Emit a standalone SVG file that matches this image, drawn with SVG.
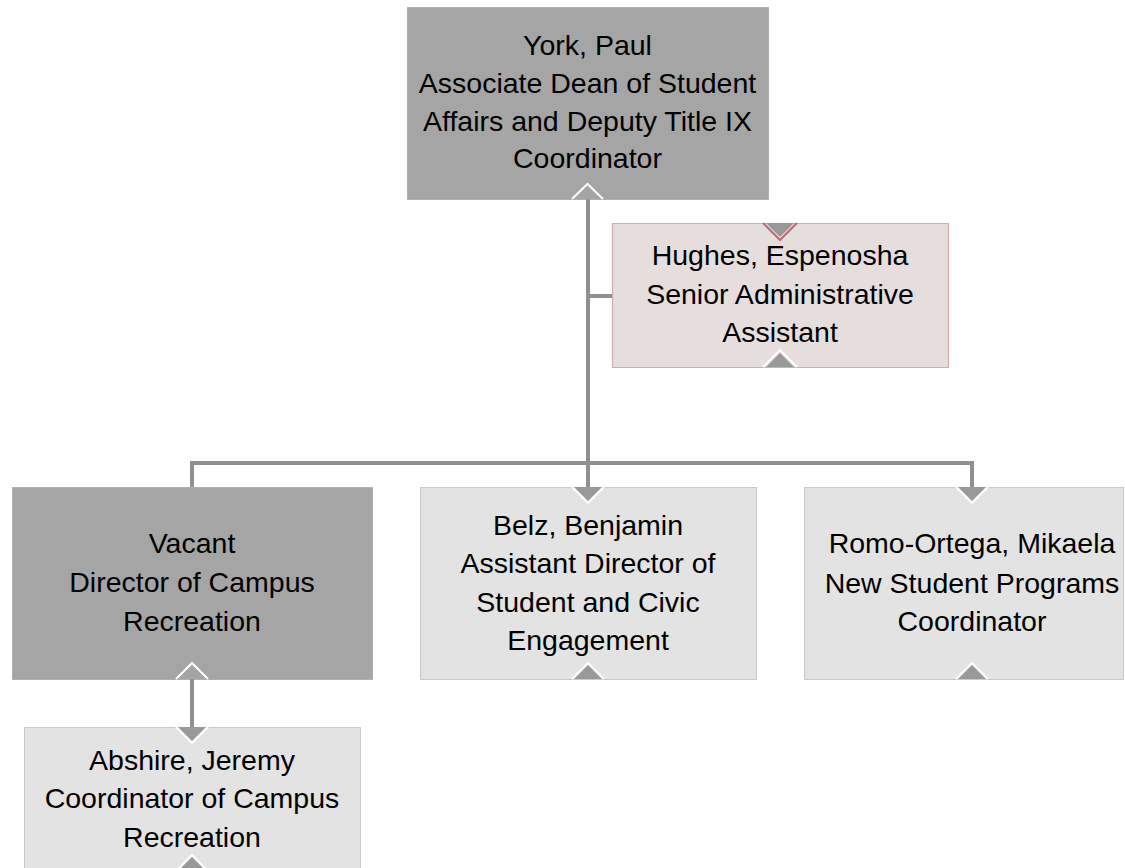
<svg xmlns="http://www.w3.org/2000/svg" width="1125" height="868" viewBox="0 0 1125 868">
<style>
  .t { font-family: "Liberation Sans", Arial, sans-serif; font-size: 28.5px; fill: #000; text-anchor: middle; }
  .dark { fill: #a5a5a5; stroke: #8e8e8e; stroke-width: 1; stroke-dasharray: 1 1; }
  .light { fill: #e3e3e3; stroke: #a0a0a0; stroke-width: 1; stroke-dasharray: 1 1; }
  .pink { fill: #e6dddd; stroke: #b06c76; stroke-width: 1.2; stroke-dasharray: 1 1; }
  .conn { stroke: #909090; stroke-width: 4; fill: none; }
  .tri { fill: #999999; }
  .triD { fill: #a5a5a5; }
  .v { fill: none; stroke: #ffffff; stroke-width: 2; }
  .vp { fill: none; stroke: #b86c78; stroke-width: 2; }
</style>
<rect x="0" y="0" width="1125" height="868" fill="#ffffff"/>

<g id="connectors">
  <path class="conn" d="M588 188 V463"/>
  <path class="conn" d="M588 296 H612"/>
  <path class="conn" d="M192 487 V463 H972 V492"/>
  <path class="conn" d="M588 463 V492"/>
  <path class="conn" d="M192 674 V732"/>
</g>

<g id="york">
  <rect class="dark" x="407.5" y="7.5" width="361" height="192"/>
  <polygon class="triD" points="573,199 602,199 587.5,185"/>
  <polyline class="v" points="572,199 587.5,184 603,199"/>
  <text class="t" x="587.5" y="55">York, Paul</text>
  <text class="t" x="587.5" y="93">Associate Dean of Student</text>
  <text class="t" x="587.5" y="131">Affairs and Deputy Title IX</text>
  <text class="t" x="587.5" y="168">Coordinator</text>
</g>

<g id="hughes">
  <rect class="pink" x="612.5" y="223.5" width="336" height="144"/>
  <polygon class="tri" points="766,223 794,223 780,237"/>
  <polyline class="vp" points="763,223 780,240 797,223"/>
  <polygon class="tri" points="766,367 794,367 780,353"/>
  <polyline class="v" points="763,367 780,350 797,367"/>
  <text class="t" x="780" y="265">Hughes, Espenosha</text>
  <text class="t" x="780" y="304">Senior Administrative</text>
  <text class="t" x="780" y="342">Assistant</text>
</g>

<g id="vacant">
  <rect class="dark" x="12.5" y="487.5" width="360" height="192"/>
  <polygon class="triD" points="178,679 206,679 192,665"/>
  <polyline class="v" points="176,679 192,663 208,679"/>
  <text class="t" x="192" y="553">Vacant</text>
  <text class="t" x="192" y="592">Director of Campus</text>
  <text class="t" x="192" y="631">Recreation</text>
</g>

<g id="belz">
  <rect class="light" x="420.5" y="487.5" width="336" height="192"/>
  <polygon class="tri" points="574,487 602,487 588,501"/>
  <polyline class="v" points="572,487 588,503 604,487"/>
  <polygon class="tri" points="574,679 602,679 588,665"/>
  <polyline class="v" points="572,679 588,663 604,679"/>
  <text class="t" x="588" y="535">Belz, Benjamin</text>
  <text class="t" x="588" y="573">Assistant Director of</text>
  <text class="t" x="588" y="612">Student and Civic</text>
  <text class="t" x="588" y="650">Engagement</text>
</g>

<g id="romo">
  <rect class="light" x="804.5" y="487.5" width="319" height="192"/>
  <polygon class="tri" points="958,487 986,487 972,501"/>
  <polyline class="v" points="956,487 972,503 988,487"/>
  <polygon class="tri" points="958,679 986,679 972,665"/>
  <polyline class="v" points="956,679 972,663 988,679"/>
  <text class="t" x="972" y="553">Romo-Ortega, Mikaela</text>
  <text class="t" x="972" y="593">New Student Programs</text>
  <text class="t" x="972" y="631">Coordinator</text>
</g>

<g id="abshire">
  <rect class="light" x="24.5" y="727.5" width="336" height="144"/>
  <polygon class="tri" points="178,727 206,727 192,741"/>
  <polyline class="v" points="176,727 192,743 208,727"/>
  <polygon class="tri" points="178,871 206,871 192,857"/>
  <polyline class="v" points="176,871 192,855 208,871"/>
  <text class="t" x="192" y="770">Abshire, Jeremy</text>
  <text class="t" x="192" y="808">Coordinator of Campus</text>
  <text class="t" x="192" y="847">Recreation</text>
</g>
</svg>
